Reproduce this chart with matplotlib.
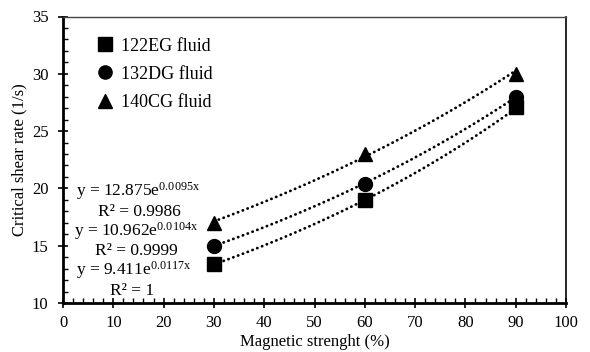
import numpy as np
import matplotlib
matplotlib.use("Agg")
import matplotlib.pyplot as plt
from matplotlib.ticker import MultipleLocator

plt.rcParams['font.family'] = ['Liberation Serif', 'DejaVu Serif']
plt.rcParams['mathtext.fontset'] = 'custom'
plt.rcParams['mathtext.rm'] = 'Liberation Serif'
plt.rcParams['mathtext.it'] = 'Liberation Serif:italic'

magnetic = [30, 60, 90]
series_names = ["122EG fluid", "132DG fluid", "140CG fluid"]
rate_122EG = [13.4, 19.0, 27.1]
rate_132DG = [15.0, 20.4, 28.0]
rate_140CG = [17.0, 23.0, 30.0]
fit_a = [9.411, 10.962, 12.875]
fit_b = [0.0117, 0.0104, 0.0095]
fit_r2 = ["1", "0.9999", "0.9986"]
markers = ['s', 'o', '^']

fig = plt.figure(figsize=(5.9, 3.52), dpi=100)
ax = fig.add_axes([63/590, 1-303/352, (566-63)/590, (303-16.5)/352])

series = [rate_122EG, rate_132DG, rate_140CG]
xs = np.linspace(magnetic[0], magnetic[-1], 100)
for vals, name, m, a, b in zip(series, series_names, markers, fit_a, fit_b):
    ax.plot(xs, a*np.exp(b*xs), color='black', lw=2.0,
            linestyle=(0, (0.1, 1.75)), dash_capstyle='round', zorder=2)
    ax.plot(magnetic, vals, linestyle='none', marker=m, color='black',
            markersize=10, label=name, zorder=3)

ax.set_xlim(0, 100)
ax.set_ylim(10, 35)
ax.xaxis.set_major_locator(MultipleLocator(10))
ax.xaxis.set_minor_locator(MultipleLocator(2))
ax.yaxis.set_major_locator(MultipleLocator(5))
ax.yaxis.set_minor_locator(MultipleLocator(1))
ax.tick_params(which='major', direction='inout', length=7, width=1.2, labelsize=12)
ax.tick_params(which='minor', direction='in', length=3.5, width=1.0)
ax.tick_params(axis='x', which='major', pad=5)
ax.tick_params(axis='y', which='major', pad=7)

ax.spines['left'].set_linewidth(2.0)
ax.spines['bottom'].set_linewidth(2.0)
ax.spines['top'].set_linewidth(1.0)
ax.spines['top'].set_color('#444444')
ax.spines['right'].set_linewidth(1.2)

ax.set_xlabel("Magnetic strenght (%)", fontsize=12, labelpad=2)
ax.set_ylabel("Critical shear rate (1/s)", fontsize=12, labelpad=3)

leg = ax.legend(loc='upper left', bbox_to_anchor=(0.036, 0.983), frameon=False,
                fontsize=13, handlelength=0.8, handletextpad=0.5,
                labelspacing=0.62, markerscale=0.95)

# equation labels (top to bottom: 140CG, 132DG, 122EG)
ypos = [191, 212, 231, 251, 270, 291]
xc = [138, 139, 136, 136, 134, 132]
order = [2, 1, 0]
i = 0
for k in order:
    eq = "y = %se$^{\\mathrm{%sx}}$" % (f"{fit_a[k]:g}", f"{fit_b[k]:g}")
    fig.text(xc[i]/590, 1-ypos[i]/352, eq, ha='center', va='center', fontsize=12.5)
    i += 1
    fig.text(xc[i]/590, 1-ypos[i]/352, "R² = " + fit_r2[k], ha='center', va='center', fontsize=12.5)
    i += 1

fig.savefig("out.png", dpi=100)
